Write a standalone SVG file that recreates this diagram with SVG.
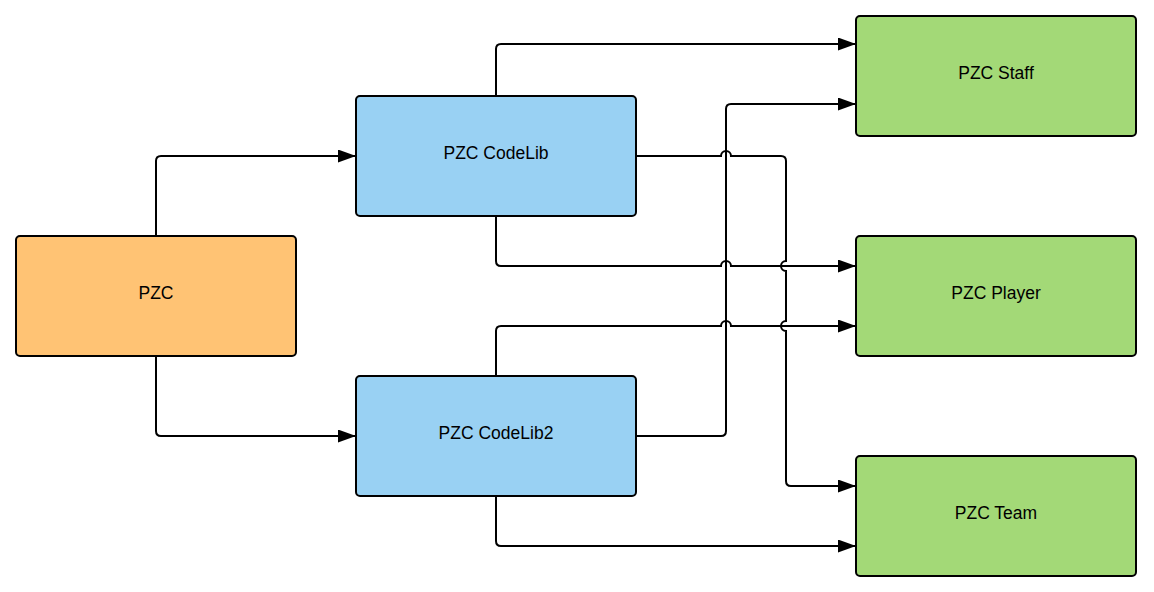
<svg xmlns="http://www.w3.org/2000/svg" width="1154" height="592" viewBox="0 0 1154 592">
<style>
.node{stroke:#000;stroke-width:2}
.orange{fill:#FFC374}
.blue{fill:#99D1F3}
.green{fill:#A3D977}
.lbl{font-family:"Liberation Sans",Arial,sans-serif;font-size:17.5px;fill:#000;text-anchor:middle}
.edge{fill:none;stroke:#000;stroke-width:2;marker-end:url(#arr)}
</style>
<defs>
<marker id="arr" markerUnits="userSpaceOnUse" viewBox="0 0 18 13" refX="17" refY="6.5" markerWidth="18" markerHeight="13" orient="auto">
<path d="M0,0 L18,6.5 L0,13 z" fill="#000"/>
</marker>
</defs>
<rect width="1154" height="592" fill="#fff"/>
<g id="connectors">
<path class="edge" d="M156,236 V161 Q156,156 161,156 H355"/>
<path class="edge" d="M156,356 V431 Q156,436 161,436 H355"/>
<path class="edge" d="M496,96 V49 Q496,44 501,44 H855"/>
<path class="edge" d="M636,156 H721 A5,5 0 0 1 731,156 H781 Q786,156 786,161 V261 A5,5 0 0 0 786,271 V321 A5,5 0 0 0 786,331 V481 Q786,486 791,486 H855"/>
<path class="edge" d="M496,216 V261 Q496,266 501,266 H721 A5,5 0 0 1 731,266 H855"/>
<path class="edge" d="M496,376 V331 Q496,326 501,326 H721 A5,5 0 0 1 731,326 H855"/>
<path class="edge" d="M636,436 H721 Q726,436 726,431 V109 Q726,104 731,104 H855"/>
<path class="edge" d="M496,496 V541 Q496,546 501,546 H855"/>
</g>
<g id="pzc">
<rect class="node orange" x="16" y="236" width="280" height="120" rx="4"/>
<text class="lbl" x="156" y="299">PZC</text>
</g>
<g id="codelib">
<rect class="node blue" x="356" y="96" width="280" height="120" rx="4"/>
<text class="lbl" x="496" y="159">PZC CodeLib</text>
</g>
<g id="codelib2">
<rect class="node blue" x="356" y="376" width="280" height="120" rx="4"/>
<text class="lbl" x="496" y="439">PZC CodeLib2</text>
</g>
<g id="staff">
<rect class="node green" x="856" y="16" width="280" height="120" rx="4"/>
<text class="lbl" x="996" y="79">PZC Staff</text>
</g>
<g id="player">
<rect class="node green" x="856" y="236" width="280" height="120" rx="4"/>
<text class="lbl" x="996" y="299">PZC Player</text>
</g>
<g id="team">
<rect class="node green" x="856" y="456" width="280" height="120" rx="4"/>
<text class="lbl" x="996" y="519">PZC Team</text>
</g>
</svg>
